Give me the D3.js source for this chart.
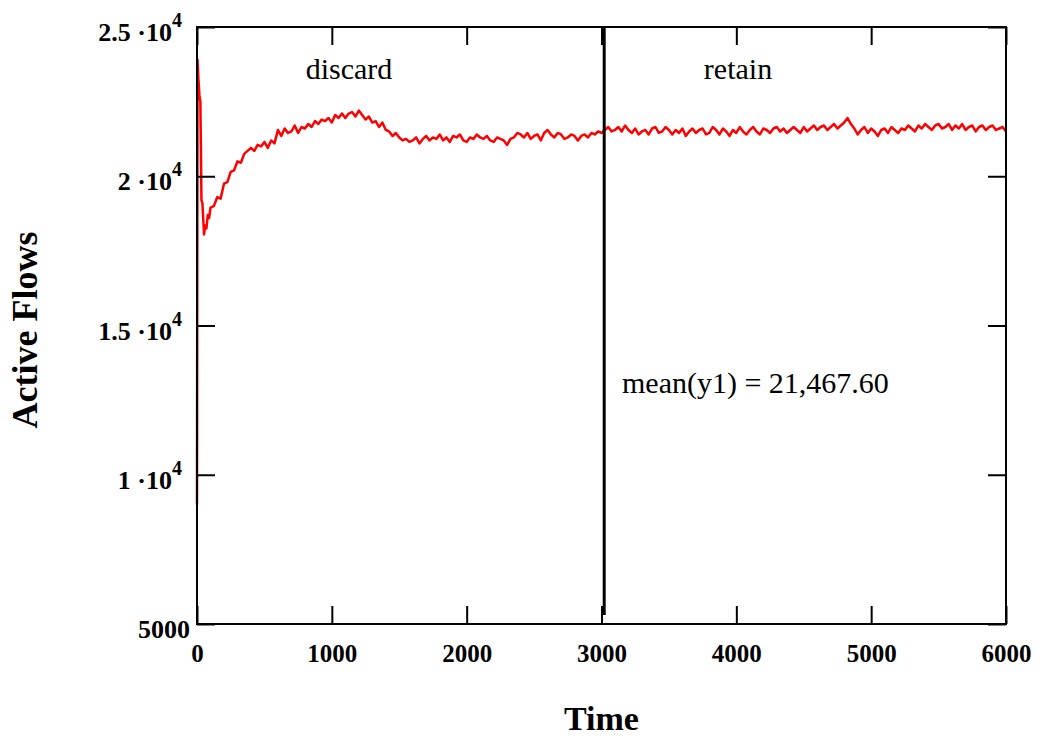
<!DOCTYPE html>
<html>
<head>
<meta charset="utf-8">
<script src="https://cdn.jsdelivr.net/npm/d3@7"></script>
<style>
  body { margin: 0; background: #fff; }
  svg { display: block; font-family: "Liberation Serif", "Times New Roman", serif; }
</style>
</head>
<body>
<div id="chart"></div>
<script>
// start-up transient: [time, active flows]
const startTimes = [0, 4, 10, 18, 25, 29, 33, 40, 46, 52, 60, 70, 80, 90];
const startValues = [9000, 23900, 23300, 22700, 22500, 21000, 19200, 19100, 18600, 18050, 18350, 18250, 18700, 18600];

// regular samples after the transient, one every 25 time units from t = 100
const sampleStart = 100;
const sampleStep = 25;
const flowValues = [
  18950, 19000, 19300, 19250, 19750, 19800, 20150, 20200, 20500, 20450,
  20750, 20850, 20950, 20850, 21050, 21000, 21150, 20950, 21200, 21100,
  21550, 21350, 21600, 21450, 21500, 21700, 21450, 21650, 21600, 21750,
  21650, 21850, 21750, 21900, 21850, 21950, 21800, 22050, 21950, 22100,
  21950, 22100, 22150, 22000, 22200, 22050, 21900, 22000, 21800, 21850,
  21650, 21800, 21550, 21500, 21350, 21450, 21300, 21200, 21250, 21150,
  21200, 21300, 21100, 21250, 21350, 21200, 21300, 21250, 21400, 21200,
  21300, 21150, 21350, 21300, 21400, 21200, 21150, 21300, 21250, 21400,
  21300, 21250, 21350, 21200, 21150, 21300, 21250, 21200, 21050, 21250,
  21300, 21450, 21400, 21300, 21450, 21250, 21350, 21400, 21200, 21450,
  21550, 21400, 21300, 21450, 21400, 21250, 21300, 21400, 21350, 21200,
  21350, 21400, 21300, 21450, 21400, 21500, 21450, 21550, 21650, 21500,
  21550, 21650, 21500, 21700, 21550, 21450, 21600, 21400, 21500, 21550,
  21400, 21600, 21650, 21450, 21500, 21650, 21550, 21400, 21550, 21450,
  21600, 21350, 21500, 21600, 21450, 21550, 21600, 21400, 21450, 21650,
  21550, 21400, 21600, 21500, 21350, 21550, 21450, 21650, 21500, 21400,
  21550, 21650, 21500, 21400, 21600, 21550, 21450, 21600, 21650, 21500,
  21600, 21450, 21550, 21650, 21550, 21450, 21650, 21500, 21600, 21700,
  21550, 21650, 21700, 21550, 21650, 21750, 21600, 21700, 21800, 21950,
  21750, 21600, 21400, 21550, 21650, 21450, 21600, 21500, 21350, 21550,
  21600, 21450, 21650, 21550, 21450, 21600, 21550, 21700, 21600, 21500,
  21700, 21600, 21750, 21650, 21550, 21700, 21750, 21600, 21650, 21750,
  21550, 21700, 21600, 21750, 21550, 21650, 21700, 21500, 21650, 21700,
  21550, 21650, 21700, 21550, 21600, 21650, 21500
];

const xTicks = [0, 1000, 2000, 3000, 4000, 5000, 6000];
const yTicks = [5000, 10000, 15000, 20000, 25000];
const yTickMantissa = ["5000", "1", "1.5", "2", "2.5"];
const splitTime = 3020;
const meanLabel = "mean(y1) = 21,467.60";

const width = 1039, height = 738;
const margin = { top: 27, right: 33, bottom: 114, left: 197 };

const svg = d3.select("#chart").append("svg")
  .attr("width", width)
  .attr("height", height);

const x = d3.scaleLinear().domain([0, 6000]).range([margin.left, width - margin.right]);
const y = d3.scaleLinear().domain([5000, 25000]).range([height - margin.bottom, margin.top]);

const points = startTimes.map((t, i) => [t, startValues[i]])
  .concat(flowValues.map((v, i) => [sampleStart + i * sampleStep, v]));

// series
svg.append("path")
  .datum(points)
  .attr("fill", "none")
  .attr("stroke", "#ff0000")
  .attr("stroke-width", 2.5)
  .attr("stroke-linejoin", "round")
  .attr("d", d3.line().x(d => x(d[0])).y(d => y(d[1])));

// discard / retain divider
svg.append("line")
  .attr("x1", x(splitTime)).attr("x2", x(splitTime))
  .attr("y1", y(25000)).attr("y2", y(5300))
  .attr("stroke", "#000")
  .attr("stroke-width", 3);

// axes with inward ticks on all four sides
function styleAxis(g) {
  g.select(".domain").remove();
  g.selectAll(".tick line").attr("stroke", "#000").attr("stroke-width", 2);
}

svg.append("g")
  .attr("transform", `translate(0,${y(5000)})`)
  .call(d3.axisBottom(x).tickValues(xTicks).tickSize(-18).tickPadding(20).tickFormat(d3.format("d")))
  .call(styleAxis)
  .call(g => g.selectAll("text")
    .attr("font-family", "Liberation Serif")
    .attr("font-weight", "bold")
    .attr("font-size", 25)
    .attr("fill", "#000"));

svg.append("g")
  .attr("transform", `translate(0,${y(25000)})`)
  .call(d3.axisTop(x).tickValues(xTicks).tickSize(-18).tickFormat(""))
  .call(styleAxis);

svg.append("g")
  .attr("transform", `translate(${x(0)},0)`)
  .call(d3.axisLeft(y).tickValues(yTicks).tickSize(-18).tickFormat(""))
  .call(styleAxis);

svg.append("g")
  .attr("transform", `translate(${x(6000)},0)`)
  .call(d3.axisRight(y).tickValues(yTicks).tickSize(-18).tickFormat(""))
  .call(styleAxis);

// frame
svg.append("rect")
  .attr("x", x(0)).attr("y", y(25000))
  .attr("width", x(6000) - x(0)).attr("height", y(5000) - y(25000))
  .attr("fill", "none")
  .attr("stroke", "#000")
  .attr("stroke-width", 2);

// y tick labels in a·10^4 form
const yLabels = svg.append("g")
  .attr("font-weight", "bold")
  .attr("font-size", 26)
  .attr("text-anchor", "end");

yTicks.forEach((v, i) => {
  const t = yLabels.append("text")
    .attr("x", i === 0 ? 190 : 182)
    .attr("y", y(v) + 14);
  if (i === 0) {
    t.text(yTickMantissa[i]);
  } else {
    t.append("tspan").text(yTickMantissa[i] + " \u00B710");
    t.append("tspan").attr("dy", -14).attr("font-size", 20).text("4");
  }
});

// axis titles
svg.append("text")
  .attr("x", (x(0) + x(6000)) / 2)
  .attr("y", 730)
  .attr("text-anchor", "middle")
  .attr("font-weight", "bold")
  .attr("font-size", 34)
  .text("Time");

svg.append("text")
  .attr("transform", `translate(37,${330}) rotate(-90)`)
  .attr("text-anchor", "middle")
  .attr("font-weight", "bold")
  .attr("font-size", 36)
  .text("Active Flows");

// annotations
svg.append("text")
  .attr("x", 349).attr("y", 79)
  .attr("text-anchor", "middle")
  .attr("font-size", 30)
  .text("discard");

svg.append("text")
  .attr("x", 738).attr("y", 79)
  .attr("text-anchor", "middle")
  .attr("font-size", 30)
  .text("retain");

svg.append("text")
  .attr("x", 622).attr("y", 393)
  .attr("font-size", 30)
  .text(meanLabel);
</script>
</body>
</html>
